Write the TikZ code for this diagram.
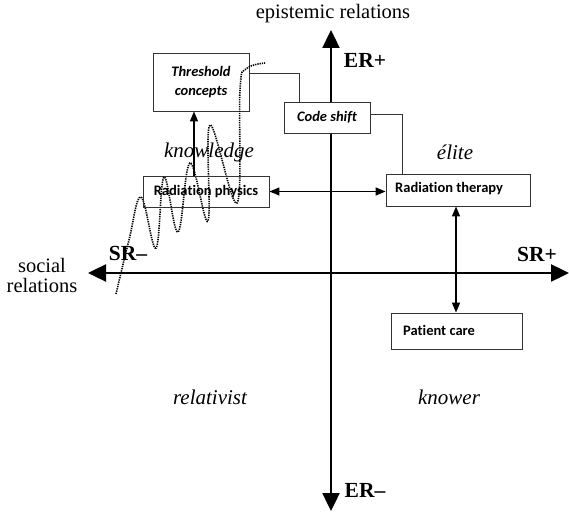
\documentclass[tikz,border=0pt]{standalone}
\usepackage{fontspec}
\setmainfont{Liberation Serif}
\newfontfamily\calibri[Ligatures=NoCommon]{Carlito}
\usetikzlibrary{arrows.meta,calc}
\tikzset{
  box/.style={draw=black!80, line width=0.9pt, fill=white, inner sep=0pt, font=\calibri\bfseries\fontsize{14.5}{17}\selectfont},
  boxtext/.style={anchor=west, inner sep=0pt, font=\calibri\bfseries\fontsize{14.5}{17}\selectfont},
  axis/.style={line width=2.4pt, {Triangle[length=18pt,width=17pt]}-{Triangle[length=18pt,width=17pt]}},
  conn/.style={line width=1.5pt, arrows={-Triangle[length=10pt,width=8pt]}},
  dconn/.style={line width=1.5pt, arrows={Triangle[length=10pt,width=8pt]-Triangle[length=10pt,width=8pt]}},
  link/.style={line width=0.9pt, draw=black!80},
  axlabel/.style={font=\fontsize{20.5}{22}\selectfont},
  bold/.style={font=\bfseries\fontsize{21.5}{23}\selectfont},
  quad/.style={font=\itshape\fontsize{21}{23}\selectfont},
  wave/.style={line width=1.6pt, dash pattern=on 1.3pt off 1pt}
}
\begin{document}
\begin{tikzpicture}[x=1pt,y=-1pt]
\useasboundingbox (0,0) rectangle (569,513);
% axes
\coordinate (top) at (331,30);
\coordinate (bot) at (331,511);
\coordinate (lft) at (88,273);
\coordinate (rgt) at (569,273);
\draw[axis] (lft) -- (rgt);
\draw[axis] (bot) -- (top);
% axis labels
\node[axlabel] (er) at (333,14) {epistemic relations};
\node[axlabel, align=center, inner sep=0pt] (sr) at (42,275) {social\\[-2pt]relations};
\node[bold] (erp) at (365,60) {ER+};
\node[bold] (erm) at (365,490) {ER–};
\node[bold] (srm) at (128,253) {SR–};
\node[bold] (srp) at (537,254) {SR+};
% quadrant labels
\node[quad] (kn) at (209,152) {knowledge};
\node[quad] (el) at (455,152) {élite};
\node[quad] (rel) at (210,397) {relativist};
\node[quad] (kw) at (449,397) {knower};
% boxes
\node[box, minimum width=96pt, minimum height=58pt, align=center, font=\calibri\bfseries\itshape\fontsize{14.5}{19}\selectfont] (tc) at (201,82) {Threshold\\concepts};
\node[box, minimum width=86pt, minimum height=31pt, font=\calibri\bfseries\itshape\fontsize{14.5}{17}\selectfont] (cs) at (327,117.5) {Code shift};
\node[box, minimum width=144pt, minimum height=32pt] (rt) at (458,190) {};
\node[boxtext] (rtt) at (395,189) {Radiation therapy};
\node[box, minimum width=131pt, minimum height=36pt] (pc) at (456.5,331) {};
\node[boxtext] (pct) at (403,330) {Patient care};
% links
\draw[link] ([yshift=9pt]tc.east) -| ([xshift=-28pt]cs.north);
\draw[link] ([yshift=3.5pt]cs.east) -| ([xshift=-56pt]rt.north);
% wave
\draw[wave] plot[smooth, tension=0.65] coordinates {(116,294) (129,240) (141,197) (156,248) (164,177) (178,232) (190,163) (208,221) (210,125) (237,203) (240,90) (246,69) (265,63)};
% radiation physics box (wave shows through)
\node[box, fill=none, minimum width=126pt, minimum height=31pt] (rp) at (206,191.5) {Radiation physics};
% arrows
\draw[dconn] (rp.east) -- (rp.east -| rt.west);
\draw[conn] ([xshift=-12pt]rp.north) -- ([xshift=-12pt]rp.north |- tc.south);
\draw[dconn] ([xshift=-2pt]rt.south) -- ([xshift=-2pt]rt.south |- pc.north);
\end{tikzpicture}
\end{document}
